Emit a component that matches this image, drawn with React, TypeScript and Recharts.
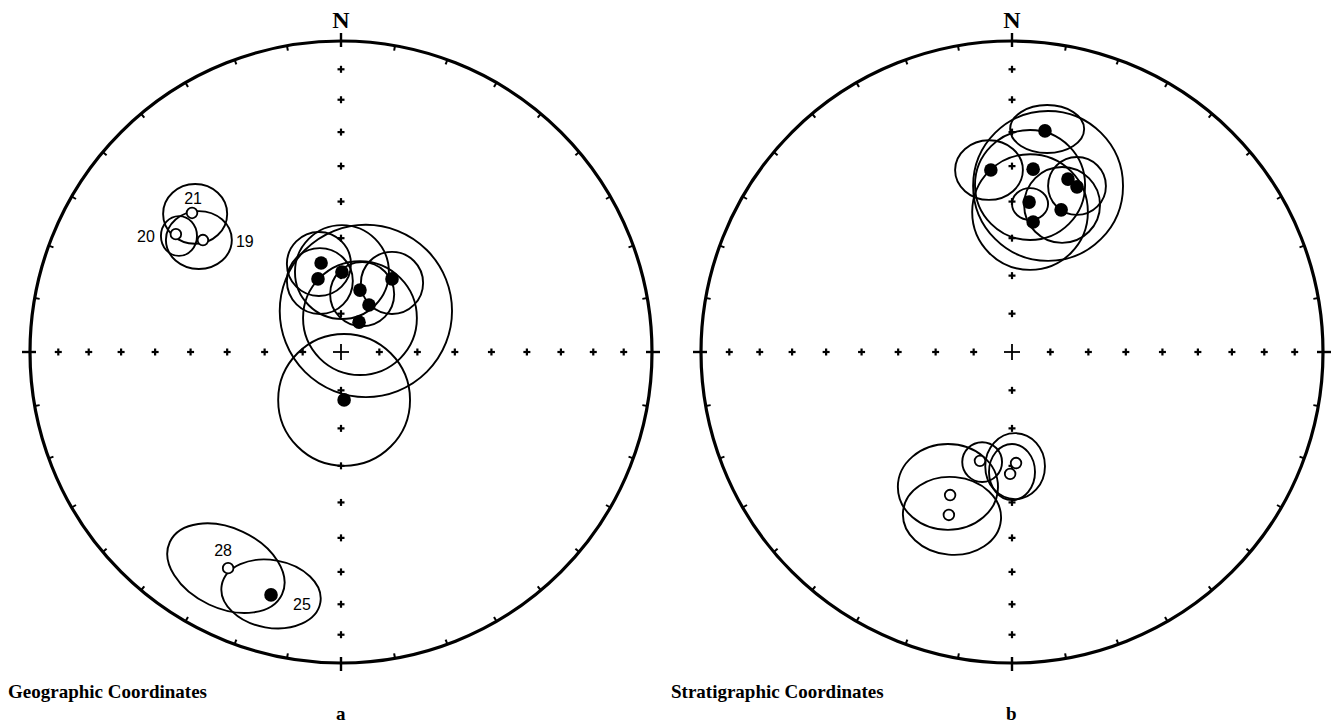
import React from "react";
import { ScatterChart, Scatter, XAxis, YAxis } from "recharts";

// each net is drawn in a square chart; x = east, y = north, primitive circle radius = 1
const SIZE = 720;
const PX = 311;
const EXTENT = SIZE / (2 * PX);

const INCLINATION_TICKS = [80, 70, 60, 50, 40, 30, 20, 10];
const RIM_TICKS = Array.from({ length: 36 }, (_, i) => i * 10);

// a) geographic coordinates
const GEO_DOWN = [
  { x: -0.064, y: 0.286 },
  { x: -0.074, y: 0.235 },
  { x: 0.003, y: 0.257 },
  { x: 0.061, y: 0.199 },
  { x: 0.164, y: 0.235 },
  { x: 0.09, y: 0.151 },
  { x: 0.058, y: 0.096 },
  { x: 0.01, y: -0.154 },
  { x: -0.225, y: -0.781, site: "25" },
];
const GEO_UP = [
  { x: -0.479, y: 0.447, site: "21" },
  { x: -0.531, y: 0.379, site: "20" },
  { x: -0.444, y: 0.36, site: "19" },
  { x: -0.363, y: -0.695, site: "28" },
];
const GEO_CONES = [
  { x: -0.469, y: 0.444, rx: 0.103, ry: 0.096 },
  { x: -0.521, y: 0.373, rx: 0.058, ry: 0.064 },
  { x: -0.457, y: 0.36, rx: 0.106, ry: 0.093 },
  { x: -0.071, y: 0.283, rx: 0.103, ry: 0.103 },
  { x: -0.068, y: 0.228, rx: 0.106, ry: 0.106 },
  { x: 0.003, y: 0.257, rx: 0.151, ry: 0.151 },
  { x: 0.164, y: 0.222, rx: 0.1, ry: 0.1 },
  { x: 0.068, y: 0.186, rx: 0.103, ry: 0.103 },
  { x: 0.061, y: 0.109, rx: 0.183, ry: 0.183 },
  { x: 0.08, y: 0.132, rx: 0.277, ry: 0.277 },
  { x: 0.01, y: -0.154, rx: 0.212, ry: 0.212 },
  { x: -0.37, y: -0.695, rx: 0.199, ry: 0.129, tilt: 25 },
  { x: -0.225, y: -0.778, rx: 0.161, ry: 0.109, tilt: 10 },
];

// b) stratigraphic coordinates
const STRAT_DOWN = [
  { x: 0.106, y: 0.711 },
  { x: -0.068, y: 0.585 },
  { x: 0.068, y: 0.588 },
  { x: 0.18, y: 0.556 },
  { x: 0.209, y: 0.531 },
  { x: 0.055, y: 0.482 },
  { x: 0.158, y: 0.457 },
  { x: 0.068, y: 0.418 },
];
const STRAT_UP = [
  { x: -0.103, y: -0.35 },
  { x: 0.013, y: -0.357 },
  { x: -0.006, y: -0.392 },
  { x: -0.199, y: -0.46 },
  { x: -0.203, y: -0.524 },
];
const STRAT_CONES = [
  { x: 0.113, y: 0.717, rx: 0.119, ry: 0.077 },
  { x: -0.074, y: 0.585, rx: 0.109, ry: 0.096 },
  { x: 0.058, y: 0.537, rx: 0.177, ry: 0.177 },
  { x: 0.209, y: 0.534, rx: 0.093, ry: 0.093 },
  { x: 0.058, y: 0.476, rx: 0.058, ry: 0.051 },
  { x: 0.116, y: 0.534, rx: 0.241, ry: 0.241 },
  { x: 0.058, y: 0.45, rx: 0.186, ry: 0.186 },
  { x: 0.161, y: 0.473, rx: 0.122, ry: 0.122 },
  { x: -0.096, y: -0.354, rx: 0.064, ry: 0.064 },
  { x: 0.01, y: -0.367, rx: 0.096, ry: 0.106 },
  { x: 0, y: -0.386, rx: 0.074, ry: 0.09 },
  { x: -0.206, y: -0.434, rx: 0.161, ry: 0.138 },
  { x: -0.193, y: -0.527, rx: 0.158, ry: 0.125, tilt: 5 },
];

// where each site number sits relative to its dot (px) and its anchor
const SITE_LABEL_POS: Record<string, [number, number, string]> = {
  "21": [1, -9, "middle"],
  "20": [-21, 8, "end"],
  "19": [33, 7, "start"],
  "28": [-5, -12, "middle"],
  "25": [22, 15, "start"],
};

// equal-area radius for an inclination
const eqArea = (inc: number) => Math.SQRT2 * Math.sin(((90 - inc) * Math.PI) / 360);

const AXIS_MARKS = INCLINATION_TICKS.flatMap((inc) => {
  const r = eqArea(inc);
  return [
    { x: 0, y: r },
    { x: 0, y: -r },
    { x: r, y: 0 },
    { x: -r, y: 0 },
  ];
});
const RIM_MARKS = RIM_TICKS.map((az) => ({
  x: Math.sin((az * Math.PI) / 180),
  y: Math.cos((az * Math.PI) / 180),
  az,
}));
const ORIGIN = [{ x: 0, y: 0 }];

const Primitive = (p: any) => (
  <g>
    <circle cx={p.cx} cy={p.cy} r={PX} fill="none" stroke="#000" strokeWidth={3.2} />
    <text
      x={p.cx}
      y={p.cy - PX - 13}
      textAnchor="middle"
      fontFamily="'Liberation Serif', serif"
      fontWeight="bold"
      fontSize={24}
    >
      N
    </text>
    <line x1={p.cx - 8} x2={p.cx + 8} y1={p.cy} y2={p.cy} stroke="#000" strokeWidth={1.8} />
    <line x1={p.cx} x2={p.cx} y1={p.cy - 8} y2={p.cy + 8} stroke="#000" strokeWidth={1.8} />
  </g>
);

const RimTick = (p: any) => {
  const a = (p.payload.az * Math.PI) / 180;
  const cardinal = p.payload.az % 90 === 0;
  const inner = cardinal ? 6 : 5;
  const outer = cardinal ? 8 : 0;
  const dx = Math.sin(a);
  const dy = -Math.cos(a);
  return (
    <line
      x1={p.cx - dx * inner}
      y1={p.cy - dy * inner}
      x2={p.cx + dx * outer}
      y2={p.cy + dy * outer}
      stroke="#000"
      strokeWidth={cardinal ? 2.4 : 2}
    />
  );
};

const AxisCross = (p: any) => (
  <g stroke="#000" strokeWidth={2.2}>
    <line x1={p.cx - 3.5} x2={p.cx + 3.5} y1={p.cy} y2={p.cy} />
    <line x1={p.cx} x2={p.cx} y1={p.cy - 3.5} y2={p.cy + 3.5} />
  </g>
);

const Cone = (p: any) => (
  <ellipse
    cx={p.cx}
    cy={p.cy}
    rx={p.payload.rx * PX}
    ry={p.payload.ry * PX}
    transform={`rotate(${p.payload.tilt || 0} ${p.cx} ${p.cy})`}
    fill="none"
    stroke="#000"
    strokeWidth={1.9}
  />
);

const siteLabel = (p: any) => {
  const pos = SITE_LABEL_POS[p.payload.site];
  if (!pos) return null;
  return (
    <text
      x={p.cx + pos[0]}
      y={p.cy + pos[1]}
      textAnchor={pos[2]}
      fontFamily="'Liberation Sans', Arial, sans-serif"
      fontSize={16}
      fill="#000"
    >
      {p.payload.site}
    </text>
  );
};

const DownDot = (p: any) => (
  <g>
    <circle cx={p.cx} cy={p.cy} r={6.8} fill="#000" />
    {siteLabel(p)}
  </g>
);

const UpDot = (p: any) => (
  <g>
    <circle cx={p.cx} cy={p.cy} r={5.3} fill="#fff" stroke="#000" strokeWidth={1.8} />
    {siteLabel(p)}
  </g>
);

type Pt = { x: number; y: number; site?: string };
type ConePt = { x: number; y: number; rx: number; ry: number; tilt?: number };

const Net = ({ down, up, cones }: { down: Pt[]; up: Pt[]; cones: ConePt[] }) => (
  <ScatterChart width={SIZE} height={SIZE} margin={{ top: 0, right: 0, bottom: 0, left: 0 }}>
    <XAxis type="number" dataKey="x" domain={[-EXTENT, EXTENT]} allowDataOverflow hide />
    <YAxis type="number" dataKey="y" domain={[-EXTENT, EXTENT]} allowDataOverflow hide />
    <Scatter data={ORIGIN} shape={Primitive} isAnimationActive={false} />
    <Scatter data={RIM_MARKS} shape={RimTick} isAnimationActive={false} />
    <Scatter data={AXIS_MARKS} shape={AxisCross} isAnimationActive={false} />
    <Scatter data={cones} shape={Cone} isAnimationActive={false} />
    <Scatter data={up} shape={UpDot} isAnimationActive={false} />
    <Scatter data={down} shape={DownDot} isAnimationActive={false} />
  </ScatterChart>
);

const caption: React.CSSProperties = {
  position: "absolute",
  fontFamily: "'Liberation Serif', 'Times New Roman', serif",
  fontWeight: "bold",
  fontSize: 19,
  lineHeight: "19px",
  whiteSpace: "nowrap",
};

export default function App() {
  return (
    <div
      style={{
        position: "absolute",
        left: 0,
        top: 0,
        width: 1335,
        height: 726,
        background: "#fff",
        overflow: "hidden",
      }}
    >
      <div style={{ position: "absolute", left: 341 - SIZE / 2, top: 352 - SIZE / 2 }}>
        <Net down={GEO_DOWN} up={GEO_UP} cones={GEO_CONES} />
      </div>
      <div style={{ position: "absolute", left: 1012 - SIZE / 2, top: 352 - SIZE / 2 }}>
        <Net down={STRAT_DOWN} up={STRAT_UP} cones={STRAT_CONES} />
      </div>
      <div style={{ ...caption, left: 8, top: 682 }}>Geographic Coordinates</div>
      <div style={{ ...caption, left: 671, top: 682 }}>Stratigraphic Coordinates</div>
      <div style={{ ...caption, left: 336, top: 704 }}>a</div>
      <div style={{ ...caption, left: 1006, top: 704 }}>b</div>
    </div>
  );
}
